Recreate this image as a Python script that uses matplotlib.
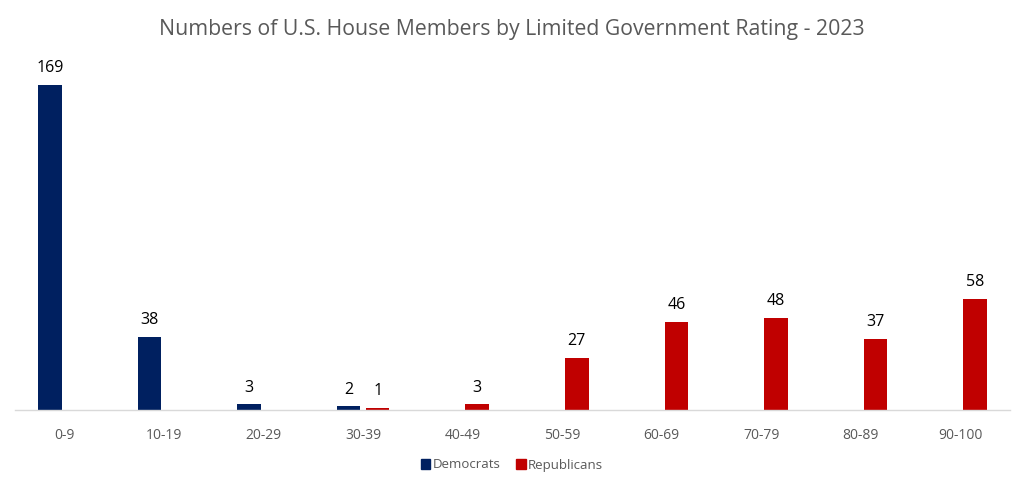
import matplotlib
matplotlib.use("Agg")
import matplotlib.pyplot as plt
from matplotlib.patches import Patch
import numpy as np

categories = ["0-9", "10-19", "20-29", "30-39", "40-49", "50-59", "60-69", "70-79", "80-89", "90-100"]
democrats = [169, 38, 3, 2, 0, 0, 0, 0, 0, 0]
republicans = [0, 0, 0, 1, 3, 27, 46, 48, 37, 58]

DEM = "#002060"
REP = "#C00000"
plt.rcParams['font.family'] = ['Open Sans', 'DejaVu Sans']

fig = plt.figure(figsize=(10.24, 4.97), dpi=100)
ax = fig.add_axes([14.7/1024, 1-410/497, 995.5/1024, (410-64)/497])

w = 0.236
off = 0.146
x = np.arange(len(categories))
bd = ax.bar(x - off, democrats, width=w, color=DEM)
br = ax.bar(x + off, republicans, width=w, color=REP)
for bars, vals in ((bd, democrats), (br, republicans)):
    for b, v in zip(bars, vals):
        if v > 0:
            ax.text(b.get_x() + b.get_width() / 2, v + 4.5, str(v), ha='center', va='bottom',
                    fontsize=11.5, color='black')

ax.set_xlim(-0.5, len(categories) - 0.5)
ax.set_ylim(0, 180)
ax.set_xticks(x)
ax.set_xticklabels(categories, fontsize=10, color="#595959")
ax.tick_params(axis='x', length=0, pad=13)
ax.set_yticks([])
for s in ['top', 'right', 'left']:
    ax.spines[s].set_visible(False)
ax.spines['bottom'].set_color("#D9D9D9")
ax.spines['bottom'].set_linewidth(1)

fig.text(0.5, 1-30/497, "Numbers of U.S. House Members by Limited Government Rating - 2023",
         ha='center', va='center', fontsize=15.3, color="#595959")

handles = [Patch(color=DEM, label="Democrats"), Patch(color=REP, label="Republicans")]
fig.legend(handles=handles, loc='center', bbox_to_anchor=(0.5, 1-465/497), ncol=2,
           frameon=False, fontsize=9.5, handlelength=0.7, handleheight=0.7,
           handletextpad=0.2, columnspacing=1.2, labelcolor="#595959")

fig.savefig("out.png", dpi=100)
